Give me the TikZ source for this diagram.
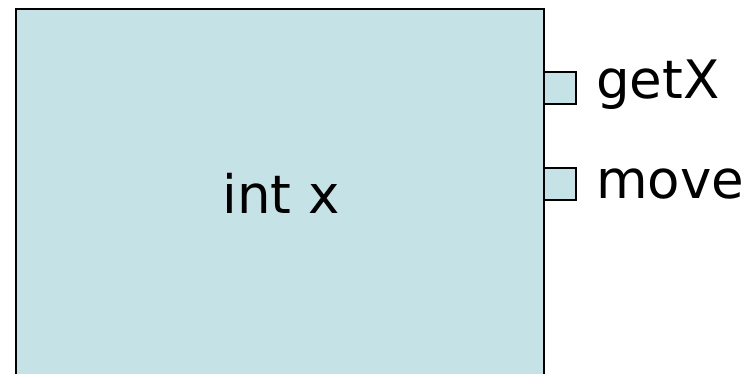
\documentclass[tikz,border=0pt]{standalone}
\usepackage{fontspec}
\setmainfont{DejaVu Sans}
\definecolor{boxfill}{RGB}{197,227,230}
\begin{document}
\begin{tikzpicture}[x=1pt,y=-1pt,
  objbox/.style={draw=black,fill=boxfill,line width=2.2pt,inner sep=0pt},
  portbox/.style={draw=black,fill=boxfill,line width=2.2pt,inner sep=0pt,minimum width=32pt,minimum height=32pt},
  lbl/.style={font=\fontsize{53}{53}\selectfont,inner sep=0pt}]
\useasboundingbox (0,0) rectangle (750,373);
\clip (0,0) rectangle (750,373);
\node[objbox,minimum width=528pt,minimum height=380pt,anchor=north west] (obj) at (15,8) {};
\node[portbox,anchor=west] (p1) at (543,88) {};
\node[portbox,anchor=west] (p2) at (543,184) {};
\node[lbl,anchor=base] (field) at (281,213) {int x};
\node[lbl,anchor=base west] (l1) at (596,98) {getX};
\node[lbl,anchor=base west] (l2) at (596,198) {move};
\end{tikzpicture}
\end{document}
